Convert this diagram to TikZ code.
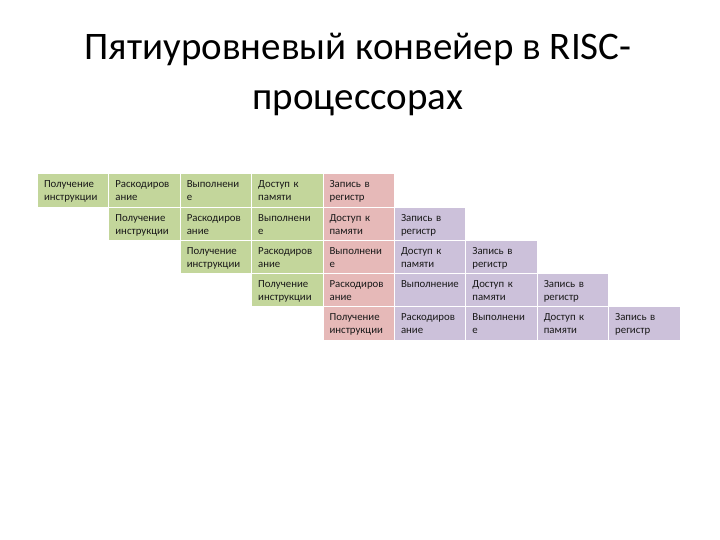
\documentclass[tikz,border=0pt]{standalone}
\usepackage{fontspec}
\setmainfont{Carlito}
\usetikzlibrary{positioning}
\definecolor{fetchgreen}{RGB}{195,214,155}
\definecolor{execpink}{RGB}{230,185,184}
\definecolor{restlilac}{RGB}{204,193,218}
\tikzset{
  stage/.style={draw=white, line width=1pt, outer sep=0pt,
    inner xsep=6.5pt, inner ysep=0pt, text width=58.4pt, align=left,
    text height=14pt, text depth=19.2pt, text=black!90,
    font=\fontsize{10.8}{13}\selectfont},
  gstage/.style={stage, fill=fetchgreen},
  pstage/.style={stage, fill=execpink},
  lstage/.style={stage, fill=restlilac},
}

\begin{document}
\begin{tikzpicture}[x=1pt, y=-1pt, node distance=0pt]
		\useasboundingbox (0,0) rectangle (720,540);
		\node[font=\fontsize{39}{50}\selectfont, align=center] (title) at (358,75) {Пятиуровневый конвейер в RISC-\\процессорах};

		% first instruction
		\node[gstage, anchor=north west] (r1c1) at (37.5,174) {Получение\\инструкции};
		\node[gstage, right=of r1c1] (r1c2) {Раскодиров\\ание};
		\node[gstage, right=of r1c2] (r1c3) {Выполнени\\е};
		\node[gstage, right=of r1c3] (r1c4) {Доступ к\\памяти};
		\node[pstage, right=of r1c4] (r1c5) {Запись в\\регистр};

		% second instruction
		\node[gstage, below=of r1c2] (r2c2) {Получение\\инструкции};
		\node[gstage, right=of r2c2] (r2c3) {Раскодиров\\ание};
		\node[gstage, right=of r2c3] (r2c4) {Выполнени\\е};
		\node[pstage, right=of r2c4] (r2c5) {Доступ к\\памяти};
		\node[lstage, right=of r2c5] (r2c6) {Запись в\\регистр};

		% third instruction
		\node[gstage, below=of r2c3] (r3c3) {Получение\\инструкции};
		\node[gstage, right=of r3c3] (r3c4) {Раскодиров\\ание};
		\node[pstage, right=of r3c4] (r3c5) {Выполнени\\е};
		\node[lstage, right=of r3c5] (r3c6) {Доступ к\\памяти};
		\node[lstage, right=of r3c6] (r3c7) {Запись в\\регистр};

		% fourth instruction
		\node[gstage, below=of r3c4] (r4c4) {Получение\\инструкции};
		\node[pstage, right=of r4c4] (r4c5) {Раскодиров\\ание};
		\node[lstage, right=of r4c5] (r4c6) {Выполнение};
		\node[lstage, right=of r4c6] (r4c7) {Доступ к\\памяти};
		\node[lstage, right=of r4c7] (r4c8) {Запись в\\регистр};

		% fifth instruction
		\node[pstage, below=of r4c5] (r5c5) {Получение\\инструкции};
		\node[lstage, right=of r5c5] (r5c6) {Раскодиров\\ание};
		\node[lstage, right=of r5c6] (r5c7) {Выполнени\\е};
		\node[lstage, right=of r5c7] (r5c8) {Доступ к\\памяти};
		\node[lstage, right=of r5c8] (r5c9) {Запись в\\регистр};
	\end{tikzpicture}
\end{document}
